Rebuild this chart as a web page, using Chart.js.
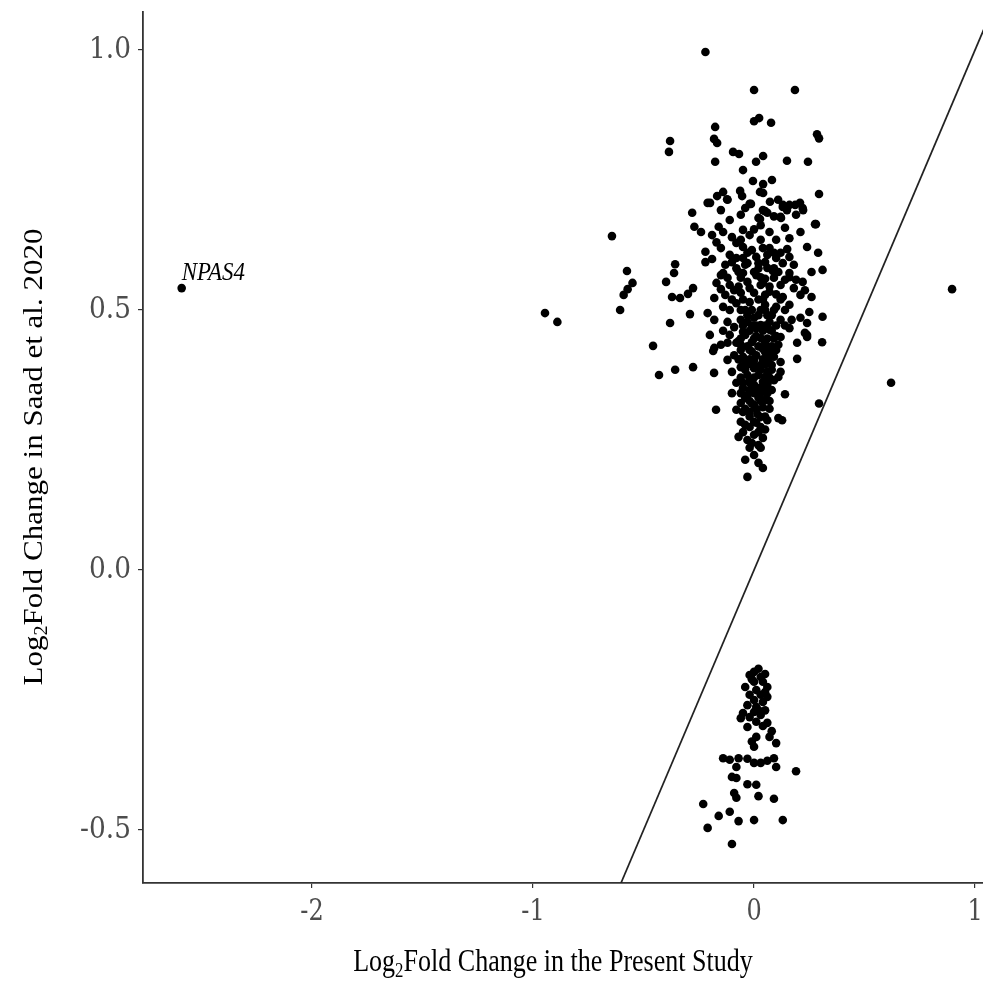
<!DOCTYPE html>
<html>
<head>
<meta charset="utf-8">
<script src="https://cdn.jsdelivr.net/npm/chart.js@4.4.1/dist/chart.umd.min.js"></script>
<style>
  html, body { margin: 0; padding: 0; background: #fff; }
</style>
</head>
<body>
<canvas id="scatter" width="983" height="998"></canvas>
<script>
// axis ranges and ticks
const xMin = -2.765, xMax = 1.036;
const yMin = -0.602, yMax = 1.073;
const xTicks = [-2, -1, 0, 1];
const yTicks = [-0.5, 0, 0.5, 1.0];

// labelled outlier
const labelledGene = 'NPAS4';
const npas4 = [-2.59, 0.542];

// genes up in Saad et al. 2020: [present study, Saad 2020]
const upGenes = [
  [-0.946,0.494],[-0.89,0.477],[0.896,0.54],[0.62,0.36],[-0.643,0.642],
  [-0.575,0.575],[-0.55,0.552],[-0.572,0.54],[-0.59,0.529],[-0.606,0.5],
  [-0.357,0.588],[-0.362,0.571],[-0.398,0.554],
  [-0.371,0.525],[-0.335,0.523],[-0.299,0.531],[-0.276,0.542],
  [-0.29,0.492],[-0.38,0.475],[-0.457,0.431],[-0.43,0.375],[-0.357,0.385],[-0.276,0.39],
  [-0.185,0.421],[-0.181,0.379],[-0.1,0.381],[-0.172,0.308],[0.127,0.288],[0.14,0.338],
  [0.294,0.32],[0.195,0.406],[0.195,0.437],[0.24,0.452],[0.308,0.438],
  [-0.28,0.687],[-0.27,0.66],[-0.24,0.65],
  [-0.22,0.996],[0.0,0.923],[0.185,0.923],[0.0,0.863],[0.023,0.869],[0.077,0.86],
  [-0.176,0.852],[0.285,0.838],[0.294,0.83],[-0.38,0.825],[-0.385,0.804],[-0.181,0.829],
  [-0.167,0.821],[-0.095,0.804],[-0.068,0.8],[0.041,0.796],[0.009,0.785],[-0.176,0.785],
  [0.149,0.787],[0.244,0.785],[-0.05,0.769],[-0.005,0.748],[0.041,0.742],[0.081,0.75],
  [0.027,0.727],[0.041,0.725],[0.294,0.723],[-0.14,0.727],[-0.167,0.719],[-0.199,0.706],
  [-0.122,0.713],[-0.063,0.729],[-0.054,0.719],[-0.014,0.704],[0.072,0.708],[0.05,0.69],
  [0.109,0.712],[0.131,0.702],[0.149,0.692],[0.122,0.677],[0.027,0.675],[0.208,0.706],
  [0.222,0.692],[0.186,0.702],[0.276,0.665],
  [-0.21,0.706],[-0.12,0.712],[-0.02,0.704],[0.13,0.698],[0.16,0.702],[0.22,0.696],
  [0.04,0.692],[0.06,0.687],[0.02,0.677],[0.12,0.679],[0.28,0.665],
  [-0.16,0.66],[-0.14,0.65],[-0.05,0.654],[-0.19,0.644],[-0.1,0.64],[-0.08,0.629],[0.21,0.65],
  [-0.22,0.612],[-0.15,0.619],[-0.05,0.621],[-0.01,0.615],[0.04,0.619],[0.07,0.619],
  [0.15,0.617],[0.24,0.621],[0.29,0.61],
  [-0.22,0.592],[-0.19,0.598],[-0.11,0.606],[-0.1,0.592],[-0.05,0.6],[-0.03,0.59],
  [0.01,0.602],[0.06,0.606],[0.1,0.6],[0.13,0.59],[0.16,0.602],[0.18,0.587],
  [-0.15,0.567],[-0.07,0.573],[0.0,0.573],[0.06,0.581],[0.11,0.573],[0.16,0.571],
  [0.26,0.573],[0.31,0.577],[-0.12,0.562],[-0.06,0.562],[0.03,0.563],[0.09,0.562],
  [-0.14,0.571],[-0.05,0.571],[0.01,0.567],[0.085,0.575],[0.16,0.563],
  [0.22,0.554],[-0.17,0.552],[-0.11,0.548],[-0.03,0.554],[0.04,0.552],[0.12,0.548],[0.18,0.542],
  [-0.18,0.523],[-0.13,0.529],[-0.06,0.533],[0.0,0.533],[0.07,0.535],[0.13,0.525],
  [0.21,0.529],[0.26,0.525],
  [-0.21,0.494],[-0.14,0.506],[-0.08,0.513],[-0.02,0.515],[0.05,0.51],[0.1,0.506],
  [0.16,0.51],[0.25,0.496],[0.31,0.487],
  [-0.12,0.477],[-0.06,0.481],[0.0,0.485],[0.06,0.49],[0.12,0.481],[0.17,0.481],[0.24,0.475],
  [-0.2,0.452],[-0.11,0.452],[-0.05,0.458],[0.01,0.465],[0.07,0.462],[0.12,0.448],
  [0.16,0.465],[0.23,0.456],
  [-0.15,0.433],[-0.08,0.437],[-0.01,0.438],[0.05,0.438],[0.11,0.433],[0.24,0.448],[-0.18,0.427],
  [-0.12,0.437],[-0.06,0.433],[0.06,0.429],
  [-0.05,0.41],[0.01,0.413],[0.07,0.408],[0.12,0.4],
  [-0.06,0.39],[0.0,0.388],[0.06,0.381],[0.12,0.381],
  [-0.08,0.36],[-0.02,0.365],[0.04,0.362],[0.09,0.365],[0.11,0.371],
  [-0.1,0.34],[-0.03,0.337],[0.03,0.34],[0.08,0.346],
  [-0.06,0.321],[0.0,0.317],[0.04,0.313],
  [-0.08,0.308],[-0.02,0.304],[0.03,0.294],[0.11,0.292],
  [-0.05,0.304],[0.06,0.288],[-0.04,0.279],[0.01,0.283],
  [-0.07,0.256],[-0.03,0.25],[0.0,0.26],[0.04,0.254],[-0.01,0.244],
  [0.0,0.221],[-0.04,0.212],[0.02,0.206],[0.04,0.196],[-0.03,0.179],
  [-0.04,0.452],[0.03,0.446],[-0.02,0.423],[0.05,0.419],[0.0,0.404],[-0.04,0.4],
  [0.03,0.394],[-0.03,0.375],[0.05,0.371],[0.0,0.356],[-0.05,0.35],[0.06,0.356],
  [-0.02,0.346],[0.02,0.331],[-0.04,0.331],[0.05,0.327],[-0.06,0.423],[0.08,0.394],
  [-0.09,0.413],[-0.12,0.404],[0.1,0.423],[0.03,0.471],[-0.03,0.477],[-0.09,0.467],
  [0.07,0.477],[0.14,0.5],[-0.04,0.5],[0.03,0.5],[-0.11,0.5],[-0.18,0.481],[0.21,0.485],
  [0.05,0.529],[-0.02,0.542],[-0.09,0.538],[0.03,0.548],[-0.04,0.587],[0.05,0.592],
  [-0.13,0.587],[0.14,0.558],[0.19,0.558],[0.23,0.538],
  [-0.06,0.635],[0.03,0.635],[0.1,0.635],[0.16,0.638],[-0.02,0.644],[0.07,0.65],
  [0.14,0.658],[0.03,0.663],[0.19,0.683],[-0.06,0.683],[-0.11,0.673],[-0.15,0.692],[-0.04,0.696],
  [0.01,0.45],[-0.01,0.47],[0.04,0.425],[-0.03,0.395],[0.02,0.375],[-0.01,0.355],
  [0.06,0.345],[0.015,0.3],[-0.05,0.36],[0.09,0.41],[0.1,0.45],[-0.07,0.44],[-0.14,0.46],
  [0.14,0.47],[0.02,0.52],[-0.1,0.52],[0.1,0.53],[-0.15,0.54],[0.05,0.56],[-0.08,0.6],
  [0.02,0.59],[0.12,0.61],[-0.17,0.63],[0.0,0.655],[0.09,0.68],
  // dense core
  [-0.06,0.5],[-0.01,0.5],[0.05,0.5],[0.09,0.5],[-0.03,0.49],[0.02,0.49],[0.08,0.49],
  [-0.05,0.47],[0.01,0.47],[0.05,0.47],[0.1,0.47],[-0.02,0.46],[0.04,0.46],[0.08,0.46],
  [-0.06,0.445],[0.0,0.445],[0.06,0.445],[0.09,0.445],[-0.03,0.43],[0.02,0.43],[0.08,0.43],
  [-0.01,0.42],[0.07,0.42],[-0.07,0.405],[-0.02,0.405],[0.04,0.405],[0.06,0.405],
  [0.0,0.395],[0.05,0.395],[-0.04,0.385],[0.03,0.385],[0.08,0.385],
  [-0.06,0.37],[0.0,0.37],[0.07,0.37],[-0.02,0.36],[0.06,0.36],[0.02,0.35],[0.04,0.35],
  [-0.06,0.34],[0.0,0.34],[0.06,0.34],[-0.02,0.325],[0.03,0.325],
  [-0.04,0.31],[0.01,0.31],[0.07,0.31],[-0.02,0.295],[0.05,0.295],
  [-0.02,0.275],[0.03,0.275],[-0.05,0.265],[0.02,0.265],[-0.02,0.235],[0.03,0.235],
  [-0.05,0.52],[0.04,0.52],[0.12,0.52],[-0.07,0.545],[0.07,0.545],
  [-0.08,0.58],[0.02,0.58],[0.09,0.58],[-0.03,0.61],[0.09,0.61],
  [-0.06,0.285],[0.05,0.27],[0.0,0.285],[-0.01,0.32],[0.07,0.325],[0.02,0.24]
];

// genes down in Saad et al. 2020
const downGenes = [
  [0.0,-0.196],[-0.02,-0.202],[0.03,-0.206],[0.04,-0.215],[0.06,-0.225],[-0.04,-0.225],
  [0.0,-0.215],[0.01,-0.231],[0.03,-0.24],[0.06,-0.244],[-0.02,-0.24],[0.0,-0.25],
  [0.04,-0.254],[0.01,-0.263],[-0.05,-0.275],[-0.02,-0.283],[0.03,-0.279],[0.06,-0.294],
  [-0.03,-0.302],[0.01,-0.292],[0.0,-0.273],
  [0.01,-0.321],[0.07,-0.321],[0.1,-0.333],[0.0,-0.34],
  [-0.14,-0.362],[-0.11,-0.365],[-0.07,-0.362],[-0.08,-0.379],[-0.03,-0.363],[0.0,-0.371],
  [0.03,-0.371],[0.06,-0.367],[0.09,-0.362],[0.1,-0.379],[0.19,-0.387],
  [-0.1,-0.398],[-0.08,-0.4],[-0.03,-0.412],[0.01,-0.413],
  [-0.09,-0.429],[-0.08,-0.438],[0.02,-0.435],[0.09,-0.44],
  [-0.23,-0.45],[-0.11,-0.465],[-0.16,-0.473],[-0.07,-0.483],[0.0,-0.481],[0.13,-0.481],
  [-0.21,-0.496],[-0.1,-0.527],
  [0.02,-0.19],[0.05,-0.2],[-0.01,-0.21],[0.05,-0.235],[-0.03,-0.26],[0.02,-0.27],
  [0.05,-0.27],[-0.06,-0.285],[0.04,-0.3],[0.08,-0.31],[-0.01,-0.33]
];

// identity line y = x, clipped by the plot area
const identityLine = [-1, 1.2];

const toPoints = arr => arr.map(p => ({ x: p[0], y: p[1] }));

function squeezed(ctx, text, x, y, sx) {
  ctx.save();
  ctx.translate(x, y);
  ctx.scale(sx, 1);
  ctx.fillText(text, 0, 0);
  ctx.restore();
}

// draws tick labels, axis titles and the gene label
const textLayer = {
  id: 'textLayer',
  afterDraw(chart) {
    const ctx = chart.ctx;
    const xs = chart.scales.x, ys = chart.scales.y;
    const area = chart.chartArea;
    ctx.save();

    ctx.fillStyle = '#4d4d4d';
    ctx.font = '30px "DejaVu Serif"';
    ctx.textBaseline = 'middle';
    ctx.textAlign = 'right';
    yTicks.forEach(v => {
      squeezed(ctx, v.toFixed(1), area.left - 12, ys.getPixelForValue(v), 0.88);
    });
    ctx.textAlign = 'center';
    ctx.textBaseline = 'top';
    xTicks.forEach(v => {
      squeezed(ctx, String(v), xs.getPixelForValue(v), area.bottom + 14, 0.8);
    });

    // x title with subscript 2
    ctx.fillStyle = '#000';
    ctx.textBaseline = 'alphabetic';
    ctx.textAlign = 'left';
    const big = '31px "Liberation Serif"', small = '20px "Liberation Serif"';
    const partA = 'Log', partB = '2', partC = 'Fold Change in the Present Study';
    ctx.font = big;
    const wA = ctx.measureText(partA).width, wC = ctx.measureText(partC).width;
    ctx.font = small;
    const wB = ctx.measureText(partB).width;
    const total = wA + wB + wC;

    ctx.save();
    ctx.translate((area.left + area.right) / 2 - 10 - total * 0.84 / 2, 971);
    ctx.scale(0.84, 1);
    ctx.font = big; ctx.fillText(partA, 0, 0);
    ctx.font = small; ctx.fillText(partB, wA, 6);
    ctx.font = big; ctx.fillText(partC, wA + wB, 0);
    ctx.restore();

    // y title
    const partY = 'Fold Change in Saad et al. 2020';
    ctx.font = big;
    const wY = ctx.measureText(partY).width;
    const totalY = wA + wB + wY;
    ctx.save();
    ctx.translate(42, 457);
    ctx.rotate(-Math.PI / 2);
    ctx.scale(1, 0.9);
    ctx.translate(-totalY / 2, 0);
    ctx.font = big; ctx.fillText(partA, 0, 0);
    ctx.font = small; ctx.fillText(partB, wA, 6);
    ctx.font = big; ctx.fillText(partY, wA + wB, 0);
    ctx.restore();

    // gene label
    ctx.font = 'italic 26px "Liberation Serif"';
    ctx.textAlign = 'left';
    squeezed(ctx, labelledGene, xs.getPixelForValue(npas4[0]), ys.getPixelForValue(npas4[1]) - 8, 0.88);

    ctx.restore();
  }
};

const axisColor = '#333333';

new Chart(document.getElementById('scatter'), {
  type: 'scatter',
  data: {
    datasets: [
      { data: toPoints(upGenes.concat([npas4])), backgroundColor: '#000', borderWidth: 0, pointRadius: 4.3 },
      { data: toPoints(downGenes), backgroundColor: '#000', borderWidth: 0, pointRadius: 4.3 },
      {
        type: 'line',
        data: identityLine.map(v => ({ x: v, y: v })),
        borderColor: '#222', borderWidth: 1.7, pointRadius: 0, fill: false
      }
    ]
  },
  options: {
    responsive: false,
    animation: false,
    devicePixelRatio: 1,
    layout: { autoPadding: false, padding: { top: 12, right: 0, left: 0, bottom: 0 } },
    plugins: { legend: { display: false }, tooltip: { enabled: false } },
    scales: {
      x: {
        type: 'linear', min: xMin, max: xMax,
        afterBuildTicks: s => { s.ticks = xTicks.map(v => ({ value: v })); },
        afterFit: s => { s.height = 115; },
        ticks: { display: false },
        grid: { drawOnChartArea: false, drawTicks: true, tickLength: 5, color: axisColor, lineWidth: 1.2 },
        border: { display: true, color: axisColor, width: 1.8 }
      },
      y: {
        type: 'linear', min: yMin, max: yMax,
        afterBuildTicks: s => { s.ticks = yTicks.map(v => ({ value: v })); },
        afterFit: s => { s.width = 143; },
        ticks: { display: false },
        grid: { drawOnChartArea: false, drawTicks: true, tickLength: 5, color: axisColor, lineWidth: 1.2 },
        border: { display: true, color: axisColor, width: 1.8 }
      }
    }
  },
  plugins: [textLayer]
});
</script>
</body>
</html>
